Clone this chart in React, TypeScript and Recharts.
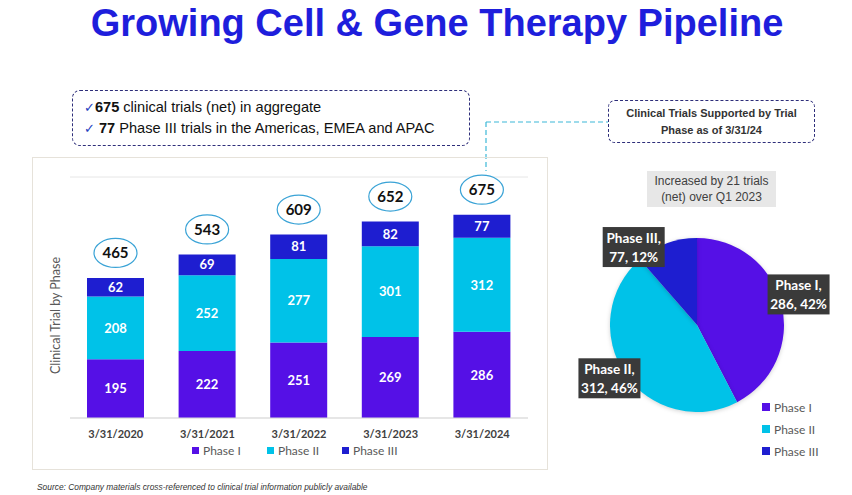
import React from 'react';
import {
  BarChart, Bar, XAxis, YAxis, CartesianGrid, LabelList, Legend,
  PieChart, Pie, Cell,
} from 'recharts';

const CATEGORIES = ['3/31/2020', '3/31/2021', '3/31/2022', '3/31/2023', '3/31/2024'];
const PHASE_I = [195, 222, 251, 269, 286];
const PHASE_II = [208, 252, 277, 301, 312];
const PHASE_III = [62, 69, 81, 82, 77];
const TOTALS = [465, 543, 609, 652, 675];
const Y_TICKS = [0, 100, 200, 300, 400, 500, 600, 700, 800];

const PIE_NAMES = ['Phase I', 'Phase II', 'Phase III'];
const PIE_VALUES = [286, 312, 77];
const PIE_PERCENTS = ['42%', '46%', '12%'];

const C1 = '#5510E6';
const C2 = '#00C2E8';
const C3 = '#1E1ED0';
const COLORS = [C1, C2, C3];

const barData = CATEGORIES.map((c, i) => ({
  date: c,
  p1: PHASE_I[i],
  p2: PHASE_II[i],
  p3: PHASE_III[i],
  total: TOTALS[i],
}));

const pieData = PIE_NAMES.map((n, i) => ({ name: n, value: PIE_VALUES[i], pct: PIE_PERCENTS[i] }));

const LATO = 'Lato, "Open Sans", sans-serif';
const ARIAL = 'Arial, "Liberation Sans", Helvetica, sans-serif';

const getBox = (p: any) => {
  const vb = p.viewBox || {};
  return {
    x: p.x ?? vb.x,
    y: p.y ?? vb.y,
    w: p.width ?? vb.width,
    h: p.height ?? vb.height,
  };
};

const Bubble = (p: any) => {
  const { x, y, w } = getBox(p);
  const cx = x + w / 2;
  const cy = y - 25;
  return (
    <g>
      <ellipse cx={cx} cy={cy} rx={21.5} ry={14.5} fill="#fff" stroke="#3aa3d6" strokeWidth={1.2} />
      <text x={cx} y={cy} dy="0.36em" textAnchor="middle" fontFamily={LATO} fontWeight={700} fontSize={15} fill="#111">
        {p.value}
      </text>
    </g>
  );
};

const SegLabel = (p: any) => {
  const { x, y, w, h } = getBox(p);
  return (
    <text x={x + w / 2} y={y + h / 2} dy="0.36em" textAnchor="middle" fontFamily={LATO} fontWeight={700} fontSize={13} fill="#fff">
      {p.value}
    </text>
  );
};

const BarLegend = (props: any) => {
  const payload = props.payload || [];
  return (
    <div style={{ display: 'flex', justifyContent: 'flex-start', paddingLeft: 160, height: 22, alignItems: 'center' }}>
      {payload.map((e: any) => (
        <div key={e.value} style={{ display: 'flex', alignItems: 'center', width: 75, fontFamily: LATO, fontSize: 12, color: '#595959' }}>
          <span style={{ width: 7, height: 7, background: e.color, display: 'inline-block', marginRight: 4 }} />
          {e.value}
        </div>
      ))}
    </div>
  );
};

const PieLegend = (props: any) => {
  const payload = props.payload || [];
  return (
    <div>
      {payload.map((e: any) => (
        <div key={e.value} style={{ display: 'flex', alignItems: 'center', height: 22, fontFamily: LATO, fontSize: 12, color: '#595959' }}>
          <span style={{ width: 8, height: 8, background: e.color, display: 'inline-block', marginRight: 4 }} />
          {e.value}
        </div>
      ))}
    </div>
  );
};

const RADIAN = Math.PI / 180;
const LABEL_NUDGE = [[1, -6], [-2, -5], [-27, 19]];

const PieLabel = (p: any) => {
  const { cx, cy, midAngle, outerRadius, index, name, value } = p;
  const r = outerRadius * 1.19;
  const lx = cx + r * Math.cos(-midAngle * RADIAN) + LABEL_NUDGE[index][0];
  const ly = cy + r * Math.sin(-midAngle * RADIAN) + LABEL_NUDGE[index][1];
  return (
    <g>
      <rect x={lx - 31} y={ly - 20} width={62} height={40} fill="#3a3a3a" />
      <text x={lx} y={ly - 9} dy="0.36em" textAnchor="middle" fontFamily={LATO} fontWeight={700} fontSize={13.5} fill="#fff">
        {name},
      </text>
      <text x={lx} y={ly + 10} dy="0.36em" textAnchor="middle" fontFamily={LATO} fontWeight={700} fontSize={13.5} fill="#fff">
        {value}, {PIE_PERCENTS[index]}
      </text>
    </g>
  );
};

export default function App() {
  return (
    <div style={{ position: 'absolute', left: 0, top: 0, width: 852, height: 495, background: '#fff', overflow: 'hidden', fontFamily: ARIAL }}>
      <style>{`.recharts-pie-sector { filter: drop-shadow(0px 1px 2px rgba(0,0,0,0.18)); }`}</style>
      {/* Title */}
      <div style={{ position: 'absolute', left: 0, top: 1, width: 874, textAlign: 'center', fontFamily: ARIAL, fontWeight: 700, fontSize: 38, color: '#1E1EDC', lineHeight: '44px' }}>
        Growing Cell &amp; Gene Therapy Pipeline
      </div>

      {/* Left callout */}
      <div style={{ position: 'absolute', left: 72, top: 90, width: 396, height: 54, border: '1px dashed #2e2e7a', borderRadius: 8, boxSizing: 'content-box' }} />
      <div style={{ position: 'absolute', left: 84, top: 97, fontFamily: ARIAL, fontSize: 14.6, color: '#111', lineHeight: '20px', whiteSpace: 'nowrap' }}>
        <div><span style={{ color: '#2340c0', fontFamily: '"DejaVu Sans", sans-serif', fontSize: 13 }}>✓</span><b>675</b> clinical trials (net) in aggregate</div>
        <div><span style={{ color: '#2340c0', fontFamily: '"DejaVu Sans", sans-serif', fontSize: 13 }}>✓</span> <b>77</b> Phase III trials in the Americas, EMEA and APAC</div>
      </div>

      {/* Right callout */}
      <div style={{ position: 'absolute', left: 608, top: 100, width: 205, height: 41, border: '1px dashed #2e2e7a', borderRadius: 7, display: 'flex', alignItems: 'center', justifyContent: 'center', textAlign: 'center', fontFamily: ARIAL, fontWeight: 700, fontSize: 11, color: '#333', lineHeight: '17px' }}>
        <div>Clinical Trials Supported by Trial<br />Phase as of 3/31/24</div>
      </div>

      {/* Connector */}
      <svg style={{ position: 'absolute', left: 0, top: 0 }} width={852} height={495}>
        <path d="M486 122 H608 M486 122 V171" stroke="#3db8d8" strokeWidth={1.2} strokeDasharray="5 3" fill="none" />
      </svg>

      {/* Gray note */}
      <div style={{ position: 'absolute', left: 647, top: 171, width: 129, height: 36, background: '#e7e7e7', display: 'flex', alignItems: 'center', justifyContent: 'center', textAlign: 'center', fontFamily: ARIAL, fontSize: 12, color: '#404040', lineHeight: '16px' }}>
        <div>Increased by 21 trials<br />(net) over Q1 2023</div>
      </div>

      {/* Bar panel border */}
      <div style={{ position: 'absolute', left: 32, top: 157, width: 514, height: 311, border: '1px solid #e6e2da' }} />

      <div style={{ position: 'absolute', left: 32, top: 157 }}>
        <BarChart width={516} height={304} data={barData} margin={{ top: 20, right: 20, left: 0, bottom: 0 }} barSize={57}>
          <CartesianGrid vertical={false} stroke="#e6e6e6" />
          <YAxis
            width={38}
            domain={[0, 800]}
            ticks={Y_TICKS}
            tick={false}
            axisLine={false}
            tickLine={false}
            label={(lp: any) => {
              const vb = lp.viewBox || {};
              const lx = vb.x + 23;
              const ly = vb.y + vb.height / 2 + 18;
              return (
                <text x={lx} y={ly} transform={`rotate(-90 ${lx} ${ly})`} textAnchor="middle" dy="0.36em" fontFamily={LATO} fontSize={12.5} fill="#595959">
                  Clinical Trial by Phase
                </text>
              );
            }}
          />
          <XAxis
            dataKey="date"
            height={21}
            tickLine={false}
            tickMargin={6}
            axisLine={{ stroke: '#d9d9d9' }}
            tick={{ fontFamily: LATO, fontWeight: 700, fontSize: 11, fill: '#404040' }}
          />
          <Legend verticalAlign="bottom" height={22} content={<BarLegend />} />
          <Bar dataKey="p1" name="Phase I" stackId="a" fill={C1} isAnimationActive={false}>
            <LabelList dataKey="p1" content={<SegLabel />} />
          </Bar>
          <Bar dataKey="p2" name="Phase II" stackId="a" fill={C2} isAnimationActive={false}>
            <LabelList dataKey="p2" content={<SegLabel />} />
          </Bar>
          <Bar dataKey="p3" name="Phase III" stackId="a" fill={C3} isAnimationActive={false}>
            <LabelList dataKey="p3" content={<SegLabel />} />
            <LabelList dataKey="total" content={<Bubble />} />
          </Bar>
        </BarChart>
      </div>

      <div style={{ position: 'absolute', left: 560, top: 220 }}>
        <PieChart width={290} height={250} margin={{ top: 0, right: 0, left: 0, bottom: 0 }}>
          <Pie
            data={pieData}
            dataKey="value"
            nameKey="name"
            cx={137}
            cy={105}
            outerRadius={87}
            startAngle={90}
            endAngle={-270}
            stroke="none"
            labelLine={false}
            label={<PieLabel />}
            isAnimationActive={false}
          >
            {pieData.map((d, i) => (
              <Cell key={d.name} fill={COLORS[i]} />
            ))}
          </Pie>
          <Legend layout="vertical" align="right" verticalAlign="bottom" content={<PieLegend />} wrapperStyle={{ left: 202, top: 176, width: 88, bottom: 'auto', right: 'auto' }} />
        </PieChart>
      </div>

      {/* Source */}
      <div style={{ position: 'absolute', left: 37, top: 482, fontFamily: ARIAL, fontStyle: 'italic', fontSize: 8.4, color: '#333', whiteSpace: 'nowrap' }}>
        Source: Company materials cross-referenced to clinical trial information publicly available
      </div>
    </div>
  );
}
